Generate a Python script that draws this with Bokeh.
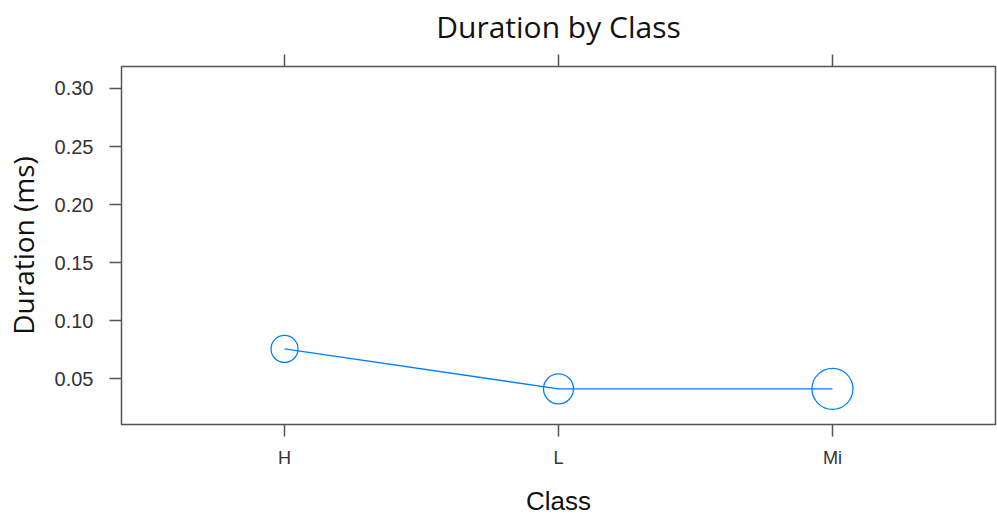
from bokeh.plotting import figure
from bokeh.models import Range1d, FixedTicker, LinearAxis, NumeralTickFormatter, ColumnDataSource
from bokeh.embed import file_html
from bokeh.resources import INLINE

# ---- data ----
title_text = "Duration by Class"
classes = ["H", "L", "Mi"]
duration_ms = [0.0758, 0.0414, 0.0414]
y_ticks = [0.05, 0.10, 0.15, 0.20, 0.25, 0.30]

# ---- style ----
point_sizes = [27, 30, 41]
BLUE = "#0080ff"
FRAME = "#555555"
Y_MIN, Y_MAX = 0.0107, 0.3189

x_pos = list(range(1, len(classes) + 1))
src = ColumnDataSource(dict(x=x_pos, y=duration_ms, cls=classes, s=point_sizes))

p = figure(width=997, height=518, output_backend="svg", toolbar_location=None,
           x_range=Range1d(0.405, 3.595), y_range=Range1d(Y_MIN, Y_MAX),
           min_border_left=121, min_border_right=2, min_border_top=66, min_border_bottom=94)

p.line("x", "y", source=src, line_color=BLUE, line_width=1.3)
p.scatter("x", "y", source=src, size="s", marker="circle", fill_color=None,
          line_color=BLUE, line_width=1.3)

p.grid.visible = False
p.outline_line_color = FRAME
p.outline_line_width = 1.5
p.background_fill_color = "white"
p.border_fill_color = "white"

bottom = p.below[0]
left = p.left[0]

bottom.ticker = FixedTicker(ticks=x_pos)
bottom.major_label_overrides = {x: c for x, c in zip(x_pos, classes)}
left.ticker = FixedTicker(ticks=y_ticks)
left.formatter = NumeralTickFormatter(format="0.00")

# top axis: tick marks only, and it carries the chart title as its label
top = LinearAxis(ticker=FixedTicker(ticks=x_pos),
                 major_label_overrides={x: "" for x in x_pos})
p.add_layout(top, "above")

for ax in [bottom, left, top]:
    ax.axis_line_color = None
    ax.major_tick_line_color = FRAME
    ax.major_tick_line_width = 1.5
    ax.major_tick_out = 12
    ax.major_tick_in = 0
    ax.minor_tick_line_color = None
    ax.major_label_text_font = "Liberation Sans"
    ax.major_label_text_font_size = "18px"
    ax.major_label_text_color = "#333333"
    ax.axis_label_text_font_style = "normal"
    ax.axis_label_text_color = "#111111"

top.major_label_standoff = 0
top.major_label_text_font_size = "1px"
top.axis_label = title_text
top.axis_label_text_font = "Open Sans"
top.axis_label_text_font_size = "30px"
top.axis_label_standoff = 8

left.major_label_text_font_size = "20px"
left.major_label_standoff = 16
bottom.major_label_standoff = 11
left.axis_label = "Duration (ms)"
left.axis_label_text_font = "Open Sans"
left.axis_label_text_font_size = "28px"
left.axis_label_standoff = 10
bottom.axis_label = "Class"
bottom.axis_label_text_font = "Liberation Sans"
bottom.axis_label_text_font_size = "26px"
bottom.axis_label_standoff = 15

open("out.html", "w").write(file_html(p, INLINE))
